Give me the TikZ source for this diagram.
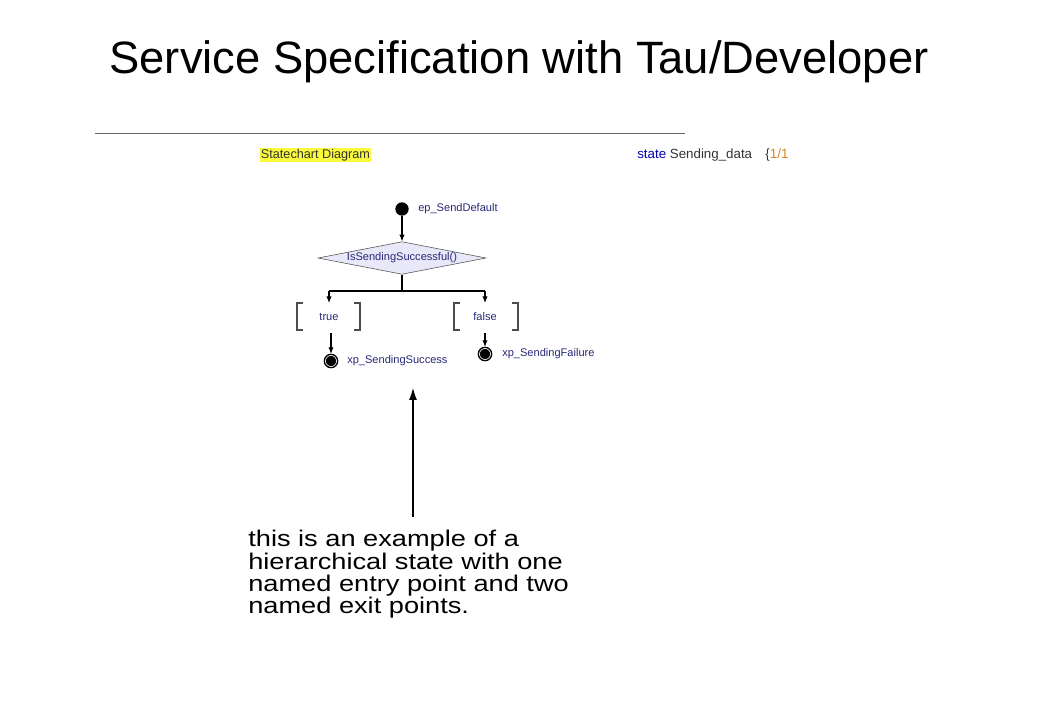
\documentclass[tikz,border=0pt]{standalone}
\usepackage{fontspec}
\setmainfont{Liberation Sans}
\usetikzlibrary{shapes.geometric,arrows.meta}
\definecolor{taublue}{RGB}{40,40,120}
\definecolor{taufill}{RGB}{232,232,248}
\definecolor{tauhl}{RGB}{250,250,60}
\definecolor{tauorange}{RGB}{220,130,30}
\begin{document}
\begin{tikzpicture}[x=0.75pt,y=-0.75pt]
    \tikzstyle{small} = [font=\fontsize{8.3}{10}\selectfont, text=taublue, inner sep=0pt]
    \tikzstyle{entry} = [circle, fill=black, minimum size=10pt, inner sep=0pt]
    \tikzstyle{exitpt} = [circle, fill=black, draw=white, double=black, double distance=1pt, line width=0.6pt, minimum size=10pt, inner sep=0pt]
    \tikzstyle{choice} = [diamond, draw=black!70, fill=taufill, aspect=5.1, minimum width=126pt, minimum height=24.5pt, inner sep=0pt, small]
    \tikzstyle{arrow} = [thick,-{Latex[length=5pt,width=4pt]}]
    \tikzstyle{bracket} = [line width=0.8pt, black!70]
    \useasboundingbox (0,0) rectangle (1040,720);
    \node (title) at (519,62) {\fontsize{34}{38}\selectfont Service Specification with Tau/Developer};
    \draw[black!60] (95,133) coordinate (hlA) -- (685,133) coordinate (hlB);
    \node (kind) [small, anchor=west, fill=tauhl, text=black!80, inner sep=0.5pt, font=\fontsize{9.5}{11}\selectfont] at (260,155) {Statechart Diagram};
    \node (head) [small, anchor=west, text=black!80, font=\fontsize{10}{12}\selectfont] at (637,155) {\textcolor{blue!70!black}{state} Sending\_data\quad \{\textcolor{tauorange}{1/1}};

    \node (ep) [entry] at (402,209) {};
    \node (eplabel) [small, anchor=west] at (418,209) {ep\_SendDefault};
    \node (test) [choice] at (402,258) {IsSendingSuccessful()};
    \coordinate (split) at (402,291);
    \coordinate (tl) at (329,291);
    \coordinate (fl) at (485,291);
    \node (guardT) [small] at (329,317) {true};
    \node (guardF) [small] at (485,317) {false};
    \node (xpS) [exitpt] at (331,361) {};
    \node (xpF) [exitpt] at (485,354) {};
    \node (xpSlabel) [small, anchor=west] at (347,361) {xp\_SendingSuccess};
    \node (xpFlabel) [small, anchor=west] at (502,354) {xp\_SendingFailure};

    \draw [arrow] (ep) -- (test);
    \draw [thick] (test.south) -- (split);
    \draw [thick] (tl) -- (fl);
    \draw [arrow] (tl) -- (329,303);
    \draw [arrow] (fl) -- (485,303);
    \draw [bracket] (303,303) -- (297,303) -- (297,330) -- (303,330);
    \draw [bracket] (354,303) -- (360,303) -- (360,330) -- (354,330);
    \draw [bracket] (460,303) -- (454,303) -- (454,330) -- (460,330);
    \draw [bracket] (512,303) -- (518,303) -- (518,330) -- (512,330);
    \draw [arrow] (331,333) -- (xpS);
    \draw [arrow] (485,333) -- (xpF);

    \node (note) [anchor=north west, align=left, inner sep=0pt, xscale=1.2, transform shape, font=\fontsize{17}{16.8}\selectfont] at (248,530) {this is an example of a\\hierarchical state with one\\named entry point and two\\named exit points.};
    \coordinate (tip) at (413,388);
    \draw [thick,-{Latex[length=9pt,width=6pt]}] (413,517) -- (tip);
\end{tikzpicture}
\end{document}
